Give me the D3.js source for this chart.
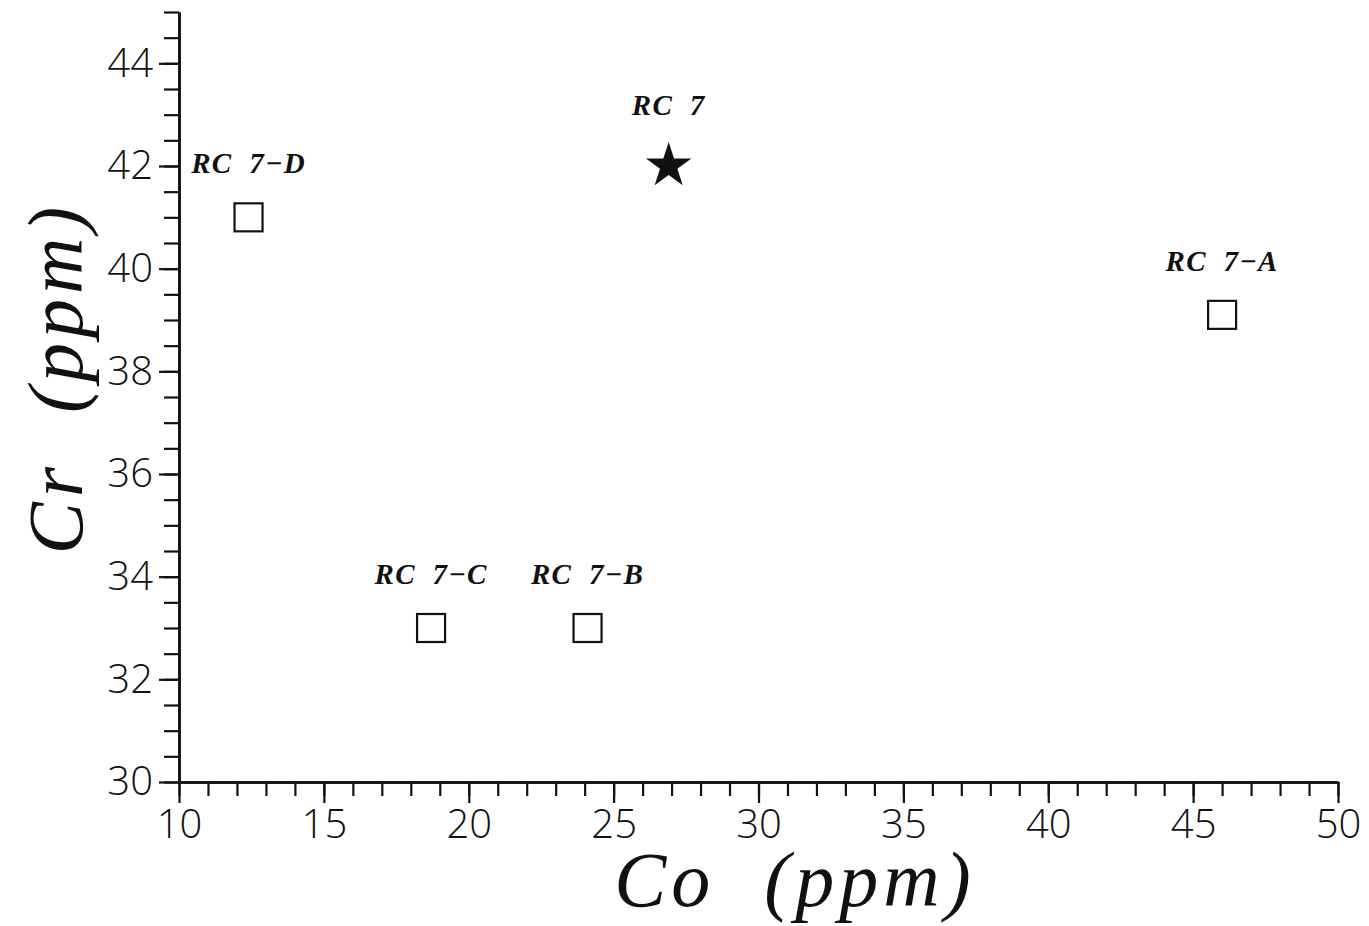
<!DOCTYPE html>
<html>
<head>
<meta charset="utf-8">
<script src="https://cdn.jsdelivr.net/npm/d3@7"></script>
<style>
  body { margin: 0; background: #fff; }
  .tick text { font-family: "Open Sans", "DejaVu Sans", sans-serif; font-weight: 300; font-size: 40px; fill: #111; }
  .axis-label { font-family: "Liberation Serif", serif; font-style: italic; font-size: 78px; letter-spacing: 5px; fill: #111; white-space: pre; }
  .point-label { font-family: "Liberation Serif", serif; font-style: italic; font-weight: bold; font-size: 29px; letter-spacing: 1.2px; fill: #111; white-space: pre; }
</style>
</head>
<body>
<svg id="chart" width="1369" height="926"></svg>
<script>
const sampleNames = ["RC 7", "RC 7-A", "RC 7-B", "RC 7-C", "RC 7-D"];
const coValues = [26.9, 46.0, 24.1, 18.7, 12.4];
const crValues = [42, 39.1, 33, 33, 41];
const markerKinds = ["star", "square", "square", "square", "square"];

const xMajorTicks = [10, 15, 20, 25, 30, 35, 40, 45, 50];
const xMinorTicks = d3.range(10, 51, 1);
const yMajorTicks = [30, 32, 34, 36, 38, 40, 42, 44];
const yMinorTicks = d3.range(30, 45.01, 0.5);

const svg = d3.select("#chart");

const x = d3.scaleLinear().domain([10, 50]).range([179, 1338]);
const y = d3.scaleLinear().domain([30, 45]).range([782, 12]);

const styleAxis = g => {
  g.select(".domain").attr("stroke", "#111").attr("stroke-width", 2.6);
  g.selectAll(".tick line").attr("stroke", "#111").attr("stroke-width", 2.2);
};

// minor ticks first, then majors
svg.append("g")
  .attr("transform", `translate(0,${y(30)})`)
  .call(d3.axisBottom(x).tickValues(xMinorTicks).tickSize(14).tickSizeOuter(0).tickFormat(""))
  .call(styleAxis);

svg.append("g")
  .attr("transform", `translate(${x(10)},0)`)
  .call(d3.axisLeft(y).tickValues(yMinorTicks).tickSize(15).tickSizeOuter(0).tickFormat(""))
  .call(styleAxis);

svg.append("g")
  .attr("transform", `translate(0,${y(30)})`)
  .call(d3.axisBottom(x).tickValues(xMajorTicks).tickSize(21).tickSizeOuter(0).tickPadding(7))
  .call(styleAxis);

svg.append("g")
  .attr("transform", `translate(${x(10)},0)`)
  .call(d3.axisLeft(y).tickValues(yMajorTicks).tickSize(20).tickSizeOuter(0).tickPadding(6))
  .call(styleAxis);

svg.selectAll(".tick text").attr("fill", "#111");

// axis titles
svg.append("text")
  .attr("class", "axis-label")
  .attr("x", 795)
  .attr("y", 906)
  .attr("text-anchor", "middle")
  .text("Co  (ppm)");

svg.append("text")
  .attr("class", "axis-label")
  .attr("transform", "translate(82,378) rotate(-90)")
  .attr("text-anchor", "middle")
  .text("Cr  (ppm)");

// points
const points = sampleNames.map((name, i) => ({
  name, co: coValues[i], cr: crValues[i], kind: markerKinds[i]
}));

const BOX = 28;

const pts = svg.append("g").selectAll("g")
  .data(points)
  .join("g")
  .attr("transform", d => `translate(${x(d.co)},${y(d.cr)})`);

pts.filter(d => d.kind === "square")
  .append("rect")
  .attr("x", -BOX / 2)
  .attr("y", -BOX / 2)
  .attr("width", BOX)
  .attr("height", BOX)
  .attr("fill", "#fff")
  .attr("stroke", "#111")
  .attr("stroke-width", 2.2);

pts.filter(d => d.kind === "star")
  .append("path")
  .attr("d", d3.symbol(d3.symbolStar, 640))
  .attr("fill", "#111");

pts.append("text")
  .attr("class", "point-label")
  .attr("text-anchor", "middle")
  .attr("y", d => d.kind === "star" ? -51 : -44)
  .text(d => d.name.replace(" ", "  ").replace("-", "\u2212"));
</script>
</body>
</html>
